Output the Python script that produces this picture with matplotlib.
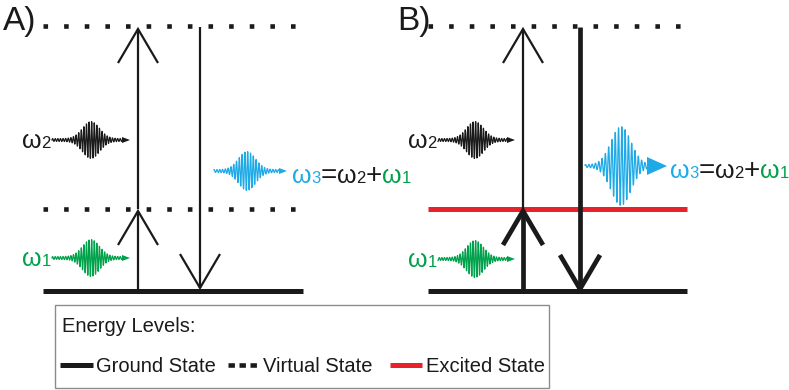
import numpy as np
import matplotlib.pyplot as plt
from matplotlib.offsetbox import TextArea, HPacker, AnnotationBbox
from matplotlib.patches import Rectangle, Polygon

# colours
BLACK = "#1a1a1a"
RED = "#e8212b"
GREEN = "#00a14b"
BLUE = "#1eaae7"

# energy levels (pixel coords, y down)
y_top, y_mid, y_ground = 26, 209, 291
panel_x = [(43, 303), (428, 687)]
panel_labels = ["A)", "B)"]
label_x = [3, 397]

# transitions: (x, y_from, y_to, linewidth)
arrows_a = [(138, 291, 211, 1.6), (138, 209, 29, 1.6), (200, 27, 288, 1.6)]
arrows_b = [(523, 291, 211, 3.4), (523, 209, 29, 1.6), (580, 27, 289, 3.4)]

# wave packets: (x_start, x_end, x_centre, y_centre, amplitude, sigma, period, colour, head_len, head_halfwidth)
packets = [
    (52, 130, 91, 140, 17, 8.5, 2.6, BLACK, 8, 3),
    (52, 130, 91, 258, 17, 8.5, 2.6, GREEN, 8, 3),
    (214, 287, 247, 171, 18, 8.5, 2.8, BLUE, 8, 3),
    (438, 515, 475, 140, 17, 8.5, 2.6, BLACK, 8, 3),
    (438, 515, 475, 259, 17, 8.5, 2.6, GREEN, 8, 3),
    (585, 667, 621, 166, 38, 10, 3.3, BLUE, 20, 9),
]


def level(ax, x0, x1, y, kind):
    if kind == "ground":
        ax.plot([x0, x1], [y, y], color=BLACK, lw=3.6, solid_capstyle="butt")
    elif kind == "excited":
        ax.plot([x0, x1], [y, y], color=RED, lw=3.6, solid_capstyle="butt")
    else:
        ax.plot([x0, x1], [y, y], color=BLACK, lw=3.3, linestyle=(0, (1, 3.5)),
                dash_capstyle="butt")


def arrow(ax, x, y0, y1, lw, hl=34, hw=20):
    d = 1 if y1 > y0 else -1
    ax.plot([x, x], [y0, y1], color=BLACK, lw=lw, solid_capstyle="butt")
    ax.plot([x - hw, x, x + hw], [y1 - d * hl, y1, y1 - d * hl], color=BLACK,
            lw=lw, solid_joinstyle="miter", solid_capstyle="butt")


def packet(ax, x0, x1, xc, yc, amp, sig, per, col, hl, hw):
    x = np.linspace(x0, x1 - hl, 1500)
    env = amp * np.exp(-0.5 * ((x - xc) / sig) ** 2) + 1.4
    y = yc - env * np.sin(2 * np.pi * (x - xc) / per)
    ax.plot(x, y, color=col, lw=0.9)
    ax.add_patch(Polygon([[x1 - hl, yc - hw], [x1, yc], [x1 - hl, yc + hw]],
                         closed=True, color=col, lw=0))


def omega_label(ax, parts, xy, align):
    boxes = []
    for s, col, size in parts:
        boxes.append(TextArea(s, textprops=dict(color=col, fontsize=size,
                                                family="Liberation Sans")))
    hp = HPacker(children=boxes, align="baseline", pad=0, sep=0)
    ab = AnnotationBbox(hp, xy, xycoords="data", box_alignment=align,
                        frameon=False, pad=0)
    ax.add_artist(ab)


fig = plt.figure(figsize=(7.89, 3.90), dpi=100)
ax = fig.add_axes([0, 0, 1, 1])
ax.set_xlim(0, 789)
ax.set_ylim(390, 0)
ax.axis("off")

# panel A
x0, x1 = panel_x[0]
level(ax, x0, 297, y_top, "virtual")
level(ax, x0, 297, y_mid, "virtual")
level(ax, x0, x1, y_ground, "ground")
# panel B
x0, x1 = panel_x[1]
level(ax, x0, 681, y_top, "virtual")
level(ax, x0, x1, y_mid, "excited")
level(ax, x0, x1, y_ground, "ground")

for a in arrows_a + arrows_b:
    arrow(ax, *a)

for p in packets:
    packet(ax, *p)

for lab, lx in zip(panel_labels, label_x):
    ax.text(lx, 30, lab, fontsize=24, family="Liberation Sans", color=BLACK,
            va="baseline", ha="left")

big, small = 18, 12
for lx, yy in [(51, 141), (437, 141)]:
    omega_label(ax, [("ω", BLACK, big), ("2", BLACK, small)], (lx, yy), (1, 0.5))
for lx, yy in [(51, 259), (437, 260)]:
    omega_label(ax, [("ω", GREEN, big), ("1", GREEN, small)], (lx, yy), (1, 0.5))
eq = [("ω", BLUE, big), ("3", BLUE, small), ("=", BLACK, 20), ("ω", BLACK, big),
      ("2", BLACK, small), ("+", BLACK, 20), ("ω", GREEN, big), ("1", GREEN, small)]
omega_label(ax, eq, (292, 176), (0, 0.5))
omega_label(ax, eq, (670, 171), (0, 0.5))

# legend box
ax.add_patch(Rectangle((55, 305), 494, 83, fill=False, edgecolor="#8c8c8c", lw=1))
leg_font = dict(fontsize=14.5, family="Liberation Sans", color=BLACK,
                va="center", ha="left")
ax.text(62, 327, "Energy Levels:", **leg_font)
ax.plot([60, 93], [365, 365], color=BLACK, lw=3.6, solid_capstyle="butt")
ax.text(96, 366, "Ground State", **leg_font)
ax.plot([228, 258], [365, 365], color=BLACK, lw=3.3, linestyle=(0, (1.4, 1.0)),
        dash_capstyle="butt")
ax.text(263, 366, "Virtual State", **leg_font)
ax.plot([390, 422], [365, 365], color=RED, lw=3.6, solid_capstyle="butt")
ax.text(426, 366, "Excited State", **leg_font)

fig.savefig("out.png", dpi=100)
